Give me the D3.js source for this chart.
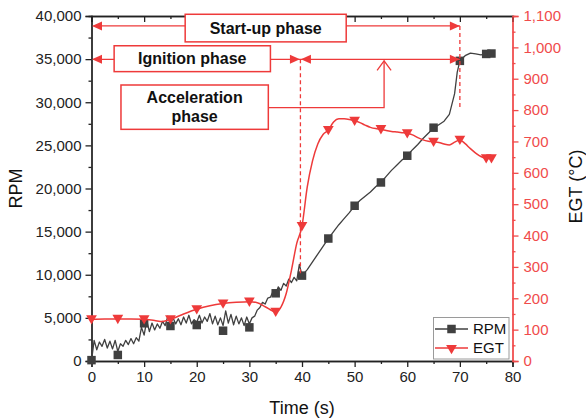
<!DOCTYPE html>
<html><head><meta charset="utf-8">
<script src="https://cdn.jsdelivr.net/npm/d3@7"></script>
<style>body{margin:0;background:#fff}svg{display:block}</style>
</head><body><svg id="chart" width="586" height="418"></svg>
<script>
// Shaft speed trace (s, rpm)
const rpmTime = [0,0.5,1,1.5,2,2.5,3,3.5,4,4.5,5,5.5,6,6.5,7,7.5,8,8.5,9,9.5,
  10,10.5,11,11.5,12,12.5,13,13.5,14,14.5,15,15.5,16,16.5,17,17.5,18,18.5,19,19.5,
  20,20.5,21,21.5,22,22.5,23,23.5,24,24.5,25,25.5,26,26.5,27,27.5,28,28.5,29,29.5,
  30,30.5,31,31.5,32,32.5,33,33.5,34,34.5,35,35.5,36,36.5,37,37.5,38,38.5,39,39.5,
  40,41,42,43,44,45,46,47,48,49,50,51,52,53,54,55,56,57,58,59,60,61,62,63,64,65,66,67,68,69,69.5,
  70,71,72,73,74,75,76];
const rpmValue = [0,2400,1300,2200,1700,2500,1500,2300,1400,2400,1100,2000,1700,2400,1900,2600,2000,2700,2300,3900,
  3000,4700,3400,4400,3600,4300,3800,4600,4100,5200,4300,5000,4300,4900,4200,5100,4400,5300,4300,4800,
  4500,5300,4400,5100,4600,5500,4300,5200,4200,5000,4100,5800,4400,5400,4200,5200,4300,5000,4100,5100,
  4300,5000,5200,5900,6200,6800,6600,7300,7400,8100,7800,8600,8200,9000,8700,9500,9100,9700,9300,11200,
  9900,10600,11500,12400,13300,14200,15000,15800,16500,17200,18000,18600,19100,19600,20200,20700,21400,22100,22700,23300,
  23800,24500,25100,25800,26400,27000,27400,27800,28600,31000,33500,
  34800,35400,35700,35600,35500,35600,35700];
// Shaft speed markers
const rpmMarkTime = [0,5,10,15,20,25,30,35,40,45,50,55,60,65,70,75,76];
const rpmMarkValue = [100,700,4370,4060,4170,3510,3900,7850,9900,14200,18000,20700,23800,27050,34800,35600,35650];

// Exhaust gas temperature trace (s, °C)
const egtTime = [0,2.5,5,7.5,10,12,13.5,15,17.5,20,22.5,25,27.5,30,31.5,33,35,36,37,38,39,40,
  41,42,43,44,45,46,47,48,49,50,51,52,53,54,55,56,57,58,59,60,61,62,63,64,65,66,67,68,69,70,71,72,73,74,75,76];
const egtValue = [133,134,134,134,133,129,126,133,150,165,176,183,187,189,186,173,157,172,215,290,375,430,
  555,638,692,722,736,762,772,772,770,766,760,752,745,741,739,735,732,730,728,726,721,712,705,701,699,697,692,689,698,705,693,677,663,652,646,646];
// Exhaust gas temperature markers
const egtMarkTime = [0,5,10,15,20,25,30,35,40,45,50,55,60,65,70,75,76];
const egtMarkValue = [133,134,133,133,165,183,189,157,430,736,766,739,726,699,705,646,646];

// Axis ticks
const timeTicks = [0,10,20,30,40,50,60,70,80];
const timeMinor = [5,15,25,35,45,55,65,75];
const rpmTicks = [0,5000,10000,15000,20000,25000,30000,35000,40000];
const rpmMinor = [2500,7500,12500,17500,22500,27500,32500,37500];
const egtTicks = [0,100,200,300,400,500,600,700,800,900,1000,1100];
const egtMinor = [50,150,250,350,450,550,650,750,850,950,1050];

// Phase boundaries (s)
const ignitionStart = 0, ignitionEnd = 39.7, startupEnd = 70;
const phaseNames = ["Start-up phase", "Ignition phase", "Acceleration", "phase"];
const seriesNames = ["RPM", "EGT"];

const GRAY = "#404040", RED = "#ee3a3a", AXRED = "#f04b4b";
const tickFont = "'Liberation Sans', Arial, sans-serif";
const boldFont = "'Liberation Sans', Arial, sans-serif";

const svg = d3.select("#chart");
const L = 91.5, R = 512.5, T = 16, B = 361;
const x = d3.scaleLinear([0, 80], [L, R]);
const yL = d3.scaleLinear([0, 40000], [B, T]);
const yR = d3.scaleLinear([0, 1100], [B, T]);

// ---- axes ----
function styleAxis(g, color, size) {
  g.select(".domain").attr("stroke", color).attr("stroke-width", 1.3);
  g.selectAll(".tick line").attr("stroke", color).attr("stroke-width", 1.3);
  g.selectAll(".tick text").attr("fill", color).style("font-family", tickFont).style("font-size", size + "px");
}
const ax = (gen, tr) => svg.append("g").attr("transform", tr).call(gen);

// minor ticks first
ax(d3.axisBottom(x).tickValues(timeMinor).tickSize(3).tickFormat(""), `translate(0,${B})`).call(g => styleAxis(g, "#222", 15));
ax(d3.axisTop(x).tickValues(timeMinor).tickSize(-3).tickFormat(""), `translate(0,${T})`).call(g => styleAxis(g, "#222", 15));
ax(d3.axisLeft(yL).tickValues(rpmMinor).tickSize(3).tickFormat(""), `translate(${L},0)`).call(g => styleAxis(g, "#222", 15));
ax(d3.axisRight(yR).tickValues(egtMinor).tickSize(3).tickFormat(""), `translate(${R},0)`).call(g => styleAxis(g, AXRED, 15));

ax(d3.axisBottom(x).tickValues(timeTicks).tickSize(6).tickPadding(4).tickFormat(d3.format("d")), `translate(0,${B})`)
  .call(g => styleAxis(g, "#222", 15));
ax(d3.axisTop(x).tickValues(timeTicks).tickSize(-6).tickFormat(""), `translate(0,${T})`).call(g => styleAxis(g, "#222", 15));
ax(d3.axisLeft(yL).tickValues(rpmTicks).tickSize(6).tickPadding(4).tickFormat(d3.format(",")), `translate(${L},0)`)
  .call(g => styleAxis(g, "#222", 15));
ax(d3.axisRight(yR).tickValues(egtTicks).tickSize(6).tickPadding(5).tickFormat(d3.format(",")), `translate(${R},0)`)
  .call(g => styleAxis(g, AXRED, 15));

// axis titles
svg.append("text").attr("x", (L + R) / 2).attr("y", 414).attr("text-anchor", "middle")
  .style("font-family", tickFont).style("font-size", "18px").attr("fill", "#111").text("Time (s)");
svg.append("text").attr("transform", `translate(22,${(T + B) / 2}) rotate(-90)`).attr("text-anchor", "middle")
  .style("font-family", tickFont).style("font-size", "18px").attr("fill", "#111").text("RPM");
svg.append("text").attr("transform", `translate(582,${(T + B) / 2 - 2}) rotate(-90)`).attr("text-anchor", "middle")
  .style("font-family", tickFont).style("font-size", "18px").attr("fill", "#111").text("EGT (°C)");

// ---- data ----
const rpmData = rpmTime.map((t, i) => [t, rpmValue[i]]);
const egtData = egtTime.map((t, i) => [t, egtValue[i]]);

svg.append("path").datum(rpmData).attr("fill", "none").attr("stroke", GRAY).attr("stroke-width", 1.3)
  .attr("stroke-linejoin", "round")
  .attr("d", d3.line().x(d => x(d[0])).y(d => yL(d[1])));
const sq = 8.5;
svg.append("g").selectAll("rect").data(rpmMarkTime.map((t, i) => [t, rpmMarkValue[i]])).join("rect")
  .attr("x", d => x(d[0]) - sq / 2).attr("y", d => yL(d[1]) - sq / 2).attr("width", sq).attr("height", sq)
  .attr("fill", GRAY);

svg.append("path").datum(egtData).attr("fill", "none").attr("stroke", RED).attr("stroke-width", 1.5)
  .attr("d", d3.line().curve(d3.curveMonotoneX).x(d => x(d[0])).y(d => yR(d[1])));
const tri = d3.symbol().type(d3.symbolTriangle).size(50);
svg.append("g").selectAll("path").data(egtMarkTime.map((t, i) => [t, egtMarkValue[i]])).join("path")
  .attr("d", tri).attr("fill", RED)
  .attr("transform", d => `translate(${x(d[0])},${yR(d[1]) - 1}) rotate(180)`);

// ---- phase annotations ----
const ann = svg.append("g");
function head(px, py, dir) {
  const len = 10, hw = 4.5;
  const bx = px - dir * len;
  ann.append("path").attr("d", `M${px},${py}L${bx},${py - hw}L${bx},${py + hw}Z`).attr("fill", RED);
}
function hline(x1, x2, py) {
  ann.append("line").attr("x1", x1).attr("x2", x2).attr("y1", py).attr("y2", py)
    .attr("stroke", RED).attr("stroke-width", 1.3);
}
function box(t1, t2, v1, v2, lines) {
  const bx = x(t1), by = yL(v1), bw = x(t2) - x(t1), bh = yL(v2) - yL(v1);
  ann.append("rect").attr("x", bx).attr("y", by).attr("width", bw).attr("height", bh)
    .attr("fill", "#fff").attr("stroke", RED).attr("stroke-width", 1.5);
  const n = lines.length, lh = 19;
  lines.forEach((s, i) => {
    ann.append("text").attr("x", bx + bw / 2).attr("y", by + bh / 2 + (i - (n - 1) / 2) * lh)
      .attr("dy", "0.36em").attr("text-anchor", "middle")
      .style("font-family", boldFont).style("font-weight", 700).style("font-size", "16px")
      .attr("fill", "#111").text(s);
  });
}
function dashed(t, v1, v2) {
  ann.append("line").attr("x1", x(t)).attr("x2", x(t)).attr("y1", yL(v1)).attr("y2", yL(v2))
    .attr("stroke", RED).attr("stroke-width", 1.3).attr("stroke-dasharray", "4,3");
}

// phase boundary markers
dashed(ignitionEnd, 34980, 10100);
dashed(startupEnd, 38850, 29350);

// start-up phase span
const suY = yL(38850);
hline(x(ignitionStart) + 2, x(startupEnd), suY);
head(x(ignitionStart) + 0.5, suY, -1);
head(x(startupEnd), suY, 1);
box(17.8, 48.4, 40200, 37000, [phaseNames[0]]);

// ignition and acceleration spans
const igY = yL(34980);
hline(x(ignitionStart) + 2, x(startupEnd), igY);
head(x(ignitionStart) + 0.5, igY, -1);
head(x(ignitionEnd) - 0.5, igY, 1);
head(x(ignitionEnd) + 0.5, igY, -1);
head(x(startupEnd), igY, 1);
box(4.3, 34.0, 36550, 33550, [phaseNames[1]]);

// acceleration callout
const accT = 55.6;
ann.append("path")
  .attr("d", `M${x(33.6)},${yL(29370)}H${x(accT)}V${igY + 1.5}`)
  .attr("fill", "none").attr("stroke", RED).attr("stroke-width", 1.3);
ann.append("path")
  .attr("d", `M${x(accT) - 7},${igY + 11}L${x(accT)},${igY + 1.5}L${x(accT) + 7},${igY + 11}`)
  .attr("fill", "none").attr("stroke", RED).attr("stroke-width", 1.3);
box(5.6, 33.6, 32000, 26860, [phaseNames[2], phaseNames[3]]);

// ---- legend ----
const lg = svg.append("g");
lg.append("rect").attr("x", 433.5).attr("y", 317.5).attr("width", 75.5).attr("height", 41.5)
  .attr("fill", "#fff").attr("stroke", "#9a9a9a").attr("stroke-width", 1);
[[GRAY, 329], [RED, 348]].forEach(([c, ly], i) => {
  lg.append("line").attr("x1", 435).attr("x2", 468).attr("y1", ly).attr("y2", ly)
    .attr("stroke", c).attr("stroke-width", i ? 1.5 : 1.3);
  if (i === 0) lg.append("rect").attr("x", 451.5 - sq / 2).attr("y", ly - sq / 2).attr("width", sq).attr("height", sq).attr("fill", c);
  else lg.append("path").attr("d", tri).attr("fill", c).attr("transform", `translate(451.5,${ly}) rotate(180)`);
  lg.append("text").attr("x", 473).attr("y", ly).attr("dy", "0.36em")
    .style("font-family", tickFont).style("font-size", "15px").attr("fill", "#111").text(seriesNames[i]);
});
</script></body></html>
